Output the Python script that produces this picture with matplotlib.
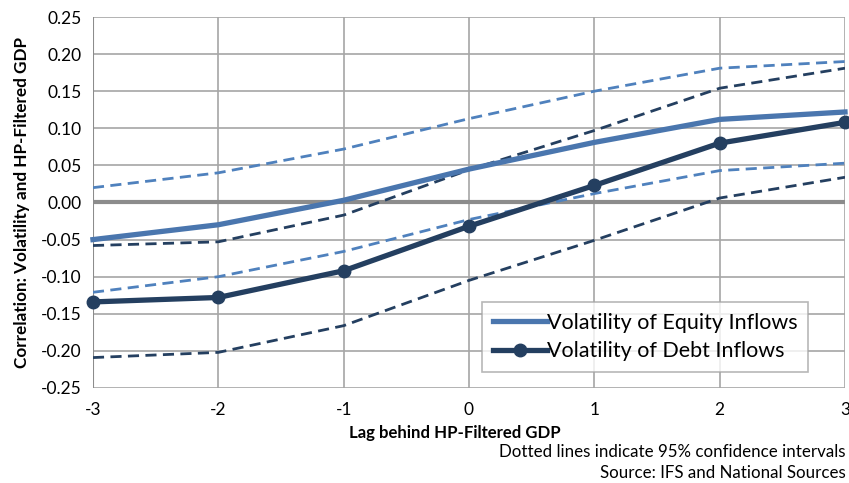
import matplotlib.pyplot as plt

plt.rcParams['font.family'] = ['Lato', 'DejaVu Sans']
plt.rcParams['axes.unicode_minus'] = False

lags = [-3, -2, -1, 0, 1, 2, 3]

equity = [-0.050, -0.030, 0.003, 0.045, 0.081, 0.112, 0.122]
equity_hi = [0.020, 0.040, 0.072, 0.113, 0.150, 0.181, 0.190]
equity_lo = [-0.121, -0.100, -0.066, -0.023, 0.012, 0.043, 0.053]

debt = [-0.134, -0.128, -0.092, -0.032, 0.023, 0.080, 0.108]
debt_hi = [-0.058, -0.053, -0.017, 0.044, 0.097, 0.154, 0.181]
debt_lo = [-0.209, -0.202, -0.166, -0.105, -0.051, 0.006, 0.034]

yticks = [-0.25, -0.20, -0.15, -0.10, -0.05, 0.00, 0.05, 0.10, 0.15, 0.20, 0.25]

c_eq = '#4A76AE'
c_eq_ci = '#4F81BD'
c_debt = '#243F60'

fig = plt.figure(figsize=(8.49, 4.83), dpi=100)
ax = fig.add_axes([0.1095, 0.1967, 0.8858, 0.7681])

ax.set_xlim(-3, 3)
ax.set_ylim(-0.25, 0.25)
ax.set_xticks(lags)
ax.set_yticks(yticks)
ax.set_yticklabels([f'{v:.2f}' for v in yticks])
ax.grid(True, color='#A6A6A6', lw=1.2)
ax.set_axisbelow(True)
for s in ax.spines.values():
    s.set_visible(False)
ax.axvline(-3, color='#8C8C8C', lw=1.5, zorder=1)
ax.axhline(0, color='#8C8C8C', lw=3, zorder=1)
ax.tick_params(length=0, labelsize=12.5, pad=8, colors='black')
ax.tick_params(axis='x', pad=10)

dash = (0, (4, 2.3))
ax.plot(lags, equity_hi, color=c_eq_ci, lw=2.0, linestyle=dash, zorder=2)
ax.plot(lags, equity_lo, color=c_eq_ci, lw=2.0, linestyle=dash, zorder=2)
ax.plot(lags, debt_hi, color=c_debt, lw=2.0, linestyle=dash, zorder=2)
ax.plot(lags, debt_lo, color=c_debt, lw=2.0, linestyle=dash, zorder=2)

ax.plot(lags, equity, color=c_eq, lw=3.8, label='Volatility of Equity Inflows',
        zorder=3, clip_on=False)
ax.plot(lags, debt, color=c_debt, lw=3.8, marker='o', markersize=9,
        label='Volatility of Debt Inflows', zorder=4, clip_on=False)

leg = ax.legend(loc='lower right', bbox_to_anchor=(0.951, 0.043), fontsize=15.5,
                frameon=True, fancybox=False, handlelength=2.5, handletextpad=0.0,
                borderpad=0.5, labelspacing=0.4, borderaxespad=0)
leg.get_frame().set_edgecolor('#A6A6A6')
leg.get_frame().set_linewidth(1.2)

ax.set_ylabel('Correlation: Volatility and HP-Filtered GDP', fontsize=12.3,
              fontweight='bold', labelpad=8)
fig.text(0.536, 0.104, 'Lag behind HP-Filtered GDP', fontsize=12.1,
         fontweight='bold', ha='center', va='center')
fig.text(0.996, 0.064, 'Dotted lines indicate 95% confidence intervals',
         fontsize=12.2, ha='right', va='center')
fig.text(0.996, 0.021, 'Source: IFS and National Sources',
         fontsize=12.2, ha='right', va='center')

fig.savefig('out.png', dpi=100)
